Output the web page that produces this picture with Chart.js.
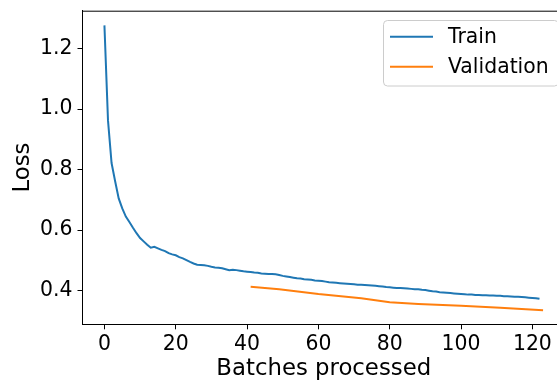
<!DOCTYPE html>
<html>
<head>
<meta charset="utf-8">
<script src="https://cdn.jsdelivr.net/npm/chart.js@4"></script>
<style>
  html, body { margin: 0; padding: 0; background: #fff; overflow: hidden; width: 557px; height: 383px; }
  canvas { display: block; }
</style>
</head>
<body>
<canvas id="lossChart" width="570" height="383"></canvas>
<script>
// batches 0..122
const trainBatches = [
  0, 1, 2, 3, 4, 5, 6, 7, 8, 9, 10, 11, 12, 13, 14, 15, 16, 17, 18, 19,
  20, 21, 22, 23, 24, 25, 26, 27, 28, 29, 30, 31, 32, 33, 34, 35, 36, 37, 38, 39,
  40, 41, 42, 43, 44, 45, 46, 47, 48, 49, 50, 51, 52, 53, 54, 55, 56, 57, 58, 59,
  60, 61, 62, 63, 64, 65, 66, 67, 68, 69, 70, 71, 72, 73, 74, 75, 76, 77, 78, 79,
  80, 81, 82, 83, 84, 85, 86, 87, 88, 89, 90, 91, 92, 93, 94, 95, 96, 97, 98, 99,
  100, 101, 102, 103, 104, 105, 106, 107, 108, 109, 110, 111, 112, 113, 114, 115, 116, 117, 118, 119,
  120, 121, 122
];
const trainLoss = [
  1.277, 0.963, 0.822, 0.762, 0.705, 0.672, 0.645, 0.627, 0.608, 0.590,
  0.574, 0.563, 0.552, 0.542, 0.545, 0.540, 0.535, 0.531, 0.524, 0.520,
  0.517, 0.511, 0.507, 0.501, 0.495, 0.490, 0.486, 0.485, 0.484, 0.482,
  0.479, 0.477, 0.476, 0.474, 0.471, 0.468, 0.469, 0.468, 0.466, 0.464,
  0.463, 0.462, 0.460, 0.459, 0.457, 0.456, 0.455, 0.455, 0.454, 0.452,
  0.449, 0.447, 0.445, 0.443, 0.441, 0.440, 0.438, 0.437, 0.436, 0.434,
  0.433, 0.432, 0.430, 0.428, 0.427, 0.426, 0.425, 0.424, 0.423, 0.422,
  0.421, 0.420, 0.420, 0.419, 0.418, 0.417, 0.416, 0.415, 0.414, 0.412,
  0.411, 0.410, 0.409, 0.409, 0.408, 0.407, 0.406, 0.405, 0.405, 0.403,
  0.402, 0.400, 0.398, 0.397, 0.395, 0.394, 0.393, 0.392, 0.391, 0.390,
  0.389, 0.388, 0.387, 0.387, 0.386, 0.386, 0.385, 0.385, 0.384, 0.384,
  0.383, 0.383, 0.382, 0.382, 0.381, 0.380, 0.380, 0.379, 0.378, 0.377,
  0.376, 0.375, 0.373
];
const valBatches = [41, 49, 60, 72, 80, 88, 100, 111, 123];
const valLoss = [0.413, 0.405, 0.389, 0.375, 0.362, 0.356, 0.350, 0.344, 0.335];

const xTicks = [0, 20, 40, 60, 80, 100, 120];
const yTicks = [0.4, 0.6, 0.8, 1.0, 1.2];

const FONT = 'DejaVu Sans';

// matplotlib-ish frame + legend
const framePlugin = {
  id: 'frame',
  afterDraw(chart) {
    const ctx = chart.ctx;
    const a = chart.chartArea;
    ctx.save();
    ctx.strokeStyle = '#000';
    ctx.lineWidth = 1;
    ctx.beginPath();
    ctx.moveTo(a.left, a.top + 0.5);
    ctx.lineTo(a.right, a.top + 0.5);
    ctx.lineTo(a.right, a.bottom);
    ctx.stroke();

    // legend box
    const bx = 383.5, by = 20.5, bw = 175, bh = 65.5;
    ctx.fillStyle = 'rgba(255,255,255,0.8)';
    ctx.strokeStyle = '#cccccc';
    ctx.beginPath();
    ctx.roundRect(bx, by, bw, bh, 4);
    ctx.fill();
    ctx.stroke();

    ctx.font = '20.4px "' + FONT + '"';
    ctx.textBaseline = 'middle';
    ctx.textAlign = 'left';
    chart.data.datasets.forEach((ds, i) => {
      const y = 36.7 + i * 30;
      ctx.strokeStyle = ds.borderColor;
      ctx.lineWidth = 2;
      ctx.beginPath();
      ctx.moveTo(390, y);
      ctx.lineTo(433, y);
      ctx.stroke();
      ctx.fillStyle = '#000';
      ctx.fillText(ds.label, 448, y + 1);
    });
    ctx.restore();
  }
};

const ctx = document.getElementById('lossChart').getContext('2d');
new Chart(ctx, {
  type: 'line',
  data: {
    datasets: [{
      label: 'Train',
      data: trainBatches.map((b, i) => ({ x: b, y: trainLoss[i] })),
      borderColor: '#1f77b4',
      borderWidth: 2,
      pointRadius: 0,
      tension: 0,
      fill: false
    }, {
      label: 'Validation',
      data: valBatches.map((b, i) => ({ x: b, y: valLoss[i] })),
      borderColor: '#ff7f0e',
      borderWidth: 2,
      pointRadius: 0,
      tension: 0,
      fill: false
    }]
  },
  options: {
    responsive: false,
    animation: false,
    layout: { padding: { left: 0, top: 10.7, right: 5, bottom: 0 } },
    plugins: {
      legend: { display: false },
      tooltip: { enabled: false }
    },
    scales: {
      x: {
        type: 'linear',
        min: -6.15,
        max: 129.15,
        afterFit(scale) {
          scale.height = 58.7;
          scale.paddingLeft = 0;
          scale.paddingRight = 0;
        },
        afterBuildTicks(scale) { scale.ticks = xTicks.map(v => ({ value: v })); },
        grid: { display: true, drawOnChartArea: false, drawTicks: true, tickLength: 5, color: '#000' },
        border: { display: true, color: '#000', width: 1 },
        ticks: {
          color: '#000',
          padding: 3,
          maxRotation: 0,
          font: { family: FONT, size: 20.4 },
          callback: v => String(v)
        },
        title: {
          display: true,
          text: 'Batches processed',
          color: '#000',
          font: { family: FONT, size: 22.8 },
          padding: { top: 0, bottom: 0 }
        }
      },
      y: {
        min: 0.2889,
        max: 1.3256,
        afterFit(scale) {
          scale.width = 82.5;
          scale.paddingTop = 0;
          scale.paddingBottom = 0;
        },
        afterBuildTicks(scale) { scale.ticks = yTicks.map(v => ({ value: v })); },
        grid: { display: true, drawOnChartArea: false, drawTicks: true, tickLength: 5, color: '#000' },
        border: { display: true, color: '#000', width: 1 },
        ticks: {
          color: '#000',
          padding: 5,
          font: { family: FONT, size: 20.4 },
          callback: v => v.toFixed(1)
        },
        title: {
          display: true,
          text: 'Loss',
          color: '#000',
          font: { family: FONT, size: 22.8 },
          padding: { top: 9, bottom: 0 }
        }
      }
    }
  },
  plugins: [framePlugin]
});
</script>
</body>
</html>
